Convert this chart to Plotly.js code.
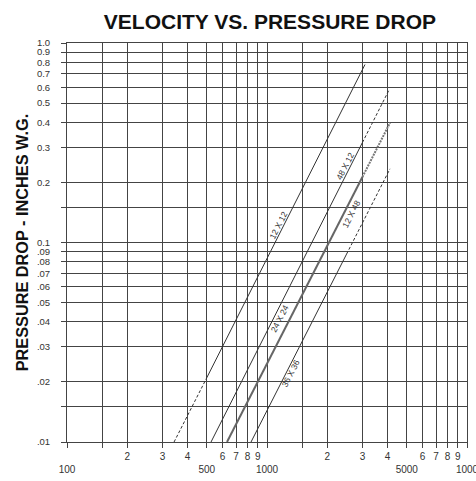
<!DOCTYPE html>
<html>
<head>
<meta charset="utf-8">
<script src="https://cdn.plot.ly/plotly-3.0.1.min.js"></script>
<style>html,body{margin:0;padding:0;background:#fff;}#chart{width:476px;height:481px;}</style>
</head>
<body>
<div id="chart"></div>
<script>
// ---- data ----
const xTickVals = [100,150,200,300,400,500,600,700,800,900,1000,1500,2000,3000,4000,5000,6000,7000,8000,9000,10000];
const xTickText = ['<br>100','','2','3','4','<br>500','6','7','8','9','<br>1000','','2','3','4','<br>5000','6','7','8','9','<br>1000'];
const yTickVals = [0.01,0.015,0.02,0.03,0.04,0.05,0.06,0.07,0.08,0.09,0.1,0.15,0.2,0.3,0.4,0.5,0.6,0.7,0.8,0.9,1.0];
const yTickText = ['.01','','.02','.03','.04','.05','.06','.07','.08','.09','0.1','','0.2','0.3','0.4','0.5','0.6','0.7','0.8','0.9','1.0'];

// velocity (FPM) / pressure drop (in. w.g.) break points per duct line
const v12x12 = [343, 500, 3090];
const p12x12 = [0.010, 0.021, 0.78];
const v24x24 = [525, 3000, 4070];
const p24x24 = [0.010, 0.317, 0.58];
const v12x48 = [631, 3000, 4120];
const p12x48 = [0.010, 0.213, 0.398];
const v36x36 = [832, 2500, 4120];
const p36x36 = [0.010, 0.0875, 0.234];

const lineLabels = ['12 X 12', '24 X 24', '48 X 12', '12 X 48', '36 X 36'];

// ---- build traces ----
const ink = '#333';
function seg(x, y, i0, i1, dash, width, color) {
  return {x: x.slice(i0, i1 + 1), y: y.slice(i0, i1 + 1), type: 'scatter', mode: 'lines',
    line: {color: color || ink, width: width || 1, dash: dash || 'solid'}, hoverinfo: 'skip', showlegend: false};
}
const traces = [
  seg(v12x12, p12x12, 0, 1, '3px,2px'), seg(v12x12, p12x12, 1, 2),
  seg(v24x24, p24x24, 0, 1), seg(v24x24, p24x24, 1, 2, '3px,2px'),
  seg(v12x48, p12x48, 0, 1, 'solid', 2, '#666'), seg(v12x48, p12x48, 1, 2, '2px,1px', 2, '#777'),
  seg(v36x36, p36x36, 0, 1), seg(v36x36, p36x36, 1, 2, '3px,2px')
];

// label positions (paper coords) – layout only
const labelPos = [[0.528,0.545],[0.533,0.31],[0.695,0.6925],[0.71,0.5725],[0.56,0.1725]];
const annotations = lineLabels.map((t, i) => ({
  text: t, xref: 'paper', yref: 'paper', x: labelPos[i][0], y: labelPos[i][1],
  showarrow: false, textangle: -63, font: {family: 'Liberation Sans', size: 8.5, color: ink},
  xanchor: 'center', yanchor: 'middle'
}));

const gridColor = '#444';
const axisCommon = {
  type: 'log', showgrid: true, gridcolor: gridColor, gridwidth: 1,
  showline: true, mirror: true, linecolor: gridColor, linewidth: 1,
  ticks: 'outside', ticklen: 5, tickcolor: gridColor, tickwidth: 1,
  tickmode: 'array', zeroline: false, automargin: false, tickangle: 0,
  ticklabeloverflow: 'allow',
  tickfont: {family: 'Liberation Sans', size: 10, color: '#333'}
};

const titleFont = "'Liberation Sans', Arial, sans-serif";
const layout = {
  width: 476, height: 481,
  margin: {l: 67, r: 9, t: 43, b: 39},
  paper_bgcolor: '#fff', plot_bgcolor: '#fff',
  title: {text: '<b>VELOCITY VS. PRESSURE DROP</b>', xref: 'container', yref: 'container',
    x: 0.567, y: 0.955, xanchor: 'center', yanchor: 'middle',
    font: {family: titleFont, size: 21, color: '#111'}},
  xaxis: Object.assign({}, axisCommon, {range: [2, 4], tickvals: xTickVals, ticktext: xTickText}),
  yaxis: Object.assign({}, axisCommon, {range: [-2, 0], tickvals: yTickVals, ticktext: yTickText,
    ticklabelstandoff: 9,
    tickfont: {family: 'Liberation Sans', size: 9.5, color: '#333'},
    title: {text: '<b>PRESSURE DROP - INCHES W.G.</b>', standoff: 4,
      font: {family: titleFont, size: 16.3, color: '#111'}}}),
  annotations: annotations,
  showlegend: false
};

Plotly.newPlot('chart', traces, layout, {staticPlot: true, displayModeBar: false});
</script>
</body>
</html>
